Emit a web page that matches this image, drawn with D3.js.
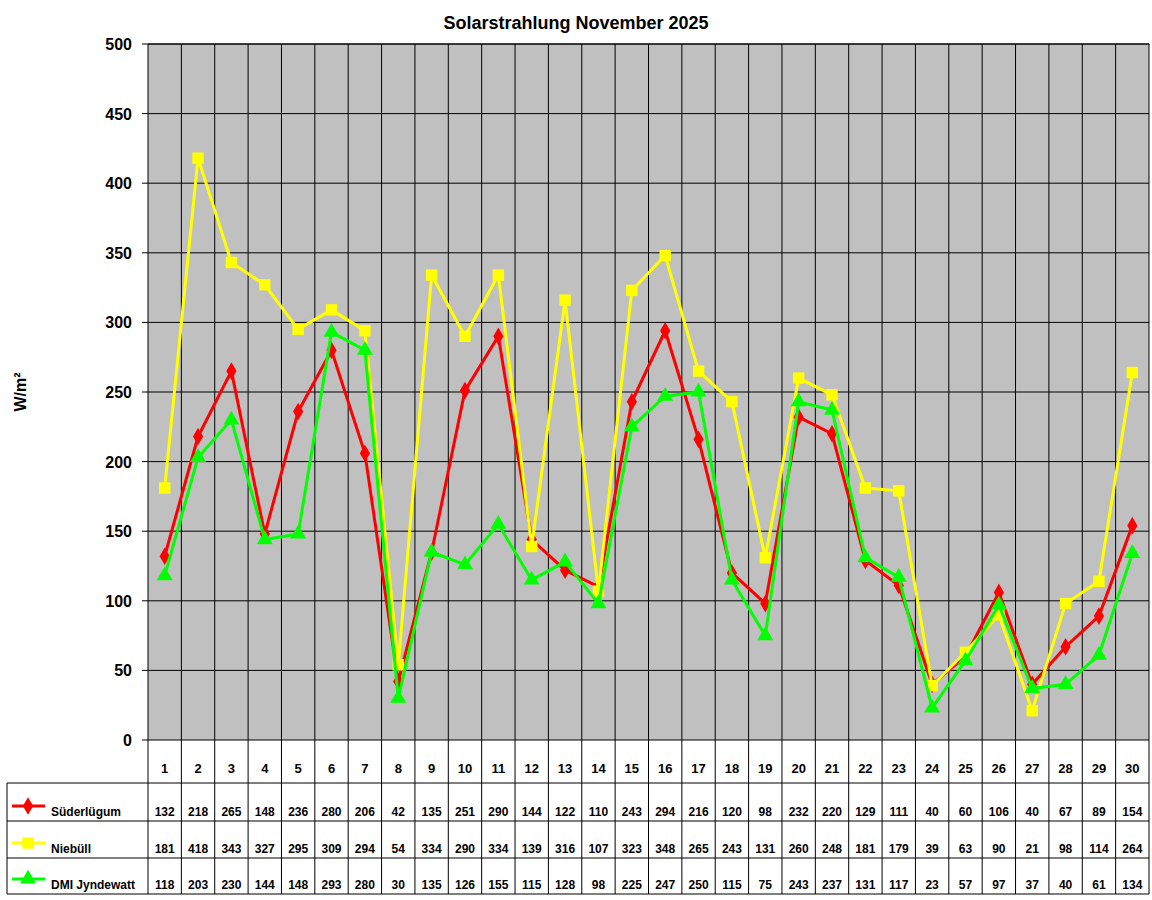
<!DOCTYPE html><html><head><meta charset="utf-8"><script src="https://cdn.jsdelivr.net/npm/d3@7"></script>
<style>body{margin:0;background:#fff}text{font-family:Arial,"Liberation Sans",sans-serif;font-weight:bold}</style></head><body>
<svg id="c" width="1152" height="900"></svg>
<script>
const days = d3.range(1,31);
const suederluegum = [132,218,265,148,236,280,206,42,135,251,290,144,122,110,243,294,216,120,98,232,220,129,111,40,60,106,40,67,89,154];
const niebuell = [181,418,343,327,295,309,294,54,334,290,334,139,316,107,323,348,265,243,131,260,248,181,179,39,63,90,21,98,114,264];
const dmi = [118,203,230,144,148,293,280,30,135,126,155,115,128,98,225,247,250,115,75,243,237,131,117,23,57,97,37,40,61,134];
const yTicks = [0,50,100,150,200,250,300,350,400,450,500];
const series = [
 {name:"Süderlügum", values:suederluegum, color:"#ff0000", shape:d3.symbolDiamond, size:90},
 {name:"Niebüll", values:niebuell, color:"#ffff00", shape:d3.symbolSquare, size:130},
 {name:"DMI Jyndewatt", values:dmi, color:"#00ff00", shape:d3.symbolTriangle, size:110}
];
const svg = d3.select("#c");
const L=148,R=1149,T=44,B=740;
const x = d3.scaleBand().domain(days).range([L,R]);
const y = d3.scaleLinear().domain([0,500]).range([B,T]);
svg.append("text").attr("x",576).attr("y",29).attr("text-anchor","middle").attr("font-size",18).text("Solarstrahlung November 2025");
svg.append("rect").attr("x",L).attr("y",T).attr("width",R-L).attr("height",B-T).attr("fill","#c0c0c0");
const g = svg.append("g");
yTicks.forEach(t=>{
 g.append("line").attr("x1",L-6).attr("x2",R).attr("y1",y(t)).attr("y2",y(t)).attr("stroke","#000");
 g.append("text").attr("x",L-16).attr("y",y(t)+6).attr("text-anchor","end").attr("font-size",16).text(t);
});
const rows=[783,821,858,894];
days.forEach(d=>{
 g.append("line").attr("x1",x(d)).attr("x2",x(d)).attr("y1",T).attr("y2",894).attr("stroke","#000");
 g.append("text").attr("x",x(d)+x.bandwidth()/2).attr("y",773).attr("text-anchor","middle").attr("font-size",13).text(d);
});
g.append("line").attr("x1",R).attr("x2",R).attr("y1",T).attr("y2",894).attr("stroke","#000");
g.append("line").attr("x1",L).attr("x2",R).attr("y1",T).attr("y2",T).attr("stroke","#000");
rows.forEach(r=>g.append("line").attr("x1",7).attr("x2",R).attr("y1",r).attr("y2",r).attr("stroke","#000"));
g.append("line").attr("x1",7).attr("x2",7).attr("y1",783).attr("y2",894).attr("stroke","#000");
svg.append("text").attr("transform","translate(26,392) rotate(-90)").attr("text-anchor","middle").attr("font-size",16).text("W/m²");
const line = d3.line().x((v,i)=>x(days[i])+x.bandwidth()/2).y(v=>y(v));
series.forEach((s,si)=>{
 svg.append("path").attr("d",line(s.values)).attr("fill","none").attr("stroke",s.color).attr("stroke-width",3);
 svg.selectAll(null).data(s.values).enter().append("path")
  .attr("d",d3.symbol().type(s.shape).size(s.size))
  .attr("transform",(v,i)=>`translate(${x(days[i])+x.bandwidth()/2},${y(v)})`).attr("fill",s.color);
 const ry = rows[si+1]-9;
 svg.append("line").attr("x1",12).attr("x2",45).attr("y1",ry-6).attr("y2",ry-6).attr("stroke",s.color).attr("stroke-width",3);
 svg.append("path").attr("d",d3.symbol().type(s.shape).size(s.size)).attr("transform",`translate(28,${ry-6})`).attr("fill",s.color);
 svg.append("text").attr("x",51).attr("y",ry+4).attr("font-size",12).text(s.name);
 s.values.forEach((v,i)=>svg.append("text").attr("x",x(days[i])+x.bandwidth()/2).attr("y",ry+4).attr("text-anchor","middle").attr("font-size",12).text(v));
});
</script></body></html>
